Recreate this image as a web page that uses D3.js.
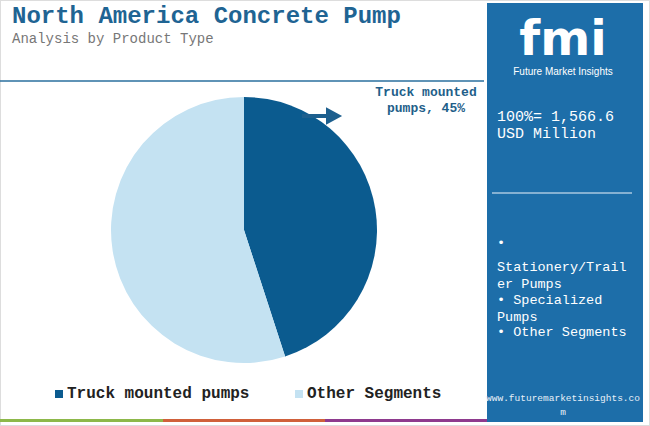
<!DOCTYPE html><html><head><meta charset="utf-8"><script src="https://cdn.jsdelivr.net/npm/d3@7"></script>
<style>body{margin:0;background:#fff} .m{font-family:"Liberation Mono","Courier New","DejaVu Sans Mono",monospace}</style></head><body><svg id="c" width="650" height="426"></svg><script>
const categories=["Truck mounted pumps","Other Segments"];
const values=[45,55];
const colors=["#0b5b8f","#c4e2f2"];
const panelItems=["•","Stationery/Trail","er Pumps","• Specialized","Pumps","• Other Segments"];
const svg=d3.select("#c");
const T=(x,y,s,t)=>svg.append("text").attr("class","m").attr("x",x).attr("y",y).attr("font-size",s).text(t);
svg.append("rect").attr("x",0.5).attr("y",0.5).attr("width",649).attr("height",425).attr("fill","#fff").attr("stroke","#ddd");
T(12,23,24,"North America Concrete Pump").attr("font-weight","bold").attr("fill","#1f6493");
T(12,43,14,"Analysis by Product Type").attr("fill","#777");
svg.append("line").attr("x1",0).attr("x2",484).attr("y1",81).attr("y2",81).attr("stroke","#2a6f9e").attr("stroke-width",1.5);
[["#8db84a",0,163],["#d0603a",163,325],["#8e3a8e",325,487]].forEach(b=>svg.append("rect").attr("x",b[1]).attr("y",419).attr("width",b[2]-b[1]).attr("height",3).attr("fill",b[0]));
svg.append("rect").attr("x",487).attr("y",3).attr("width",156).attr("height",419).attr("fill","#1d6ea9");
svg.append("text").attr("x",563).attr("y",55).attr("text-anchor","middle").attr("font-family","DejaVu Sans").attr("font-weight","bold").attr("font-size",48).attr("fill","#fff").text("fmi");
svg.append("text").attr("x",563).attr("y",75).attr("text-anchor","middle").attr("font-family","Liberation Sans Narrow, Liberation Sans").attr("font-size",10).attr("fill","#fff").text("Future Market Insights");
T(497,121,15,"100%= 1,566.6").attr("fill","#fff");
T(497,138,15,"USD Million").attr("fill","#fff");
svg.append("line").attr("x1",492).attr("x2",632).attr("y1",193).attr("y2",193).attr("stroke","#a9c9e0").attr("stroke-width",1.5);
panelItems.forEach((d,i)=>T(497,[247,271,288,304,321,336][i],13.5,d).attr("fill","#fff"));
svg.append("text").attr("x",563).attr("y",401).attr("text-anchor","middle").attr("class","m").attr("font-size",9.5).attr("fill","#e8f0f8").text("www.futuremarketinsights.co");
svg.append("text").attr("x",563).attr("y",415).attr("text-anchor","middle").attr("class","m").attr("font-size",9.5).attr("fill","#e8f0f8").text("m");
const pie=d3.pie().sort(null)(values);
const arc=d3.arc().innerRadius(0).outerRadius(133);
svg.append("g").attr("transform","translate(244,230)").selectAll("path").data(pie).join("path").attr("d",arc).attr("fill",(d,i)=>colors[i]);
svg.append("path").attr("d","M303,115 L327,115 L327,109 L340,116 L327,123 L327,117 L303,117 Z").attr("fill","#1d5f8e").attr("stroke","#1d5f8e").attr("stroke-width",2);
T(426,96,13,"Truck mounted").attr("text-anchor","middle").attr("font-weight","bold").attr("fill","#1f5f8a");
T(426,112,13,"pumps, "+values[0]+"%").attr("text-anchor","middle").attr("font-weight","bold").attr("fill","#1f5f8a");
const lx=[55,295];
categories.forEach((c,i)=>{
 svg.append("rect").attr("x",lx[i]).attr("y",390).attr("width",8).attr("height",8).attr("fill",colors[i]);
 T(lx[i]+12,398,16,c).attr("font-weight","bold").attr("fill","#222");
});
</script></body></html>
